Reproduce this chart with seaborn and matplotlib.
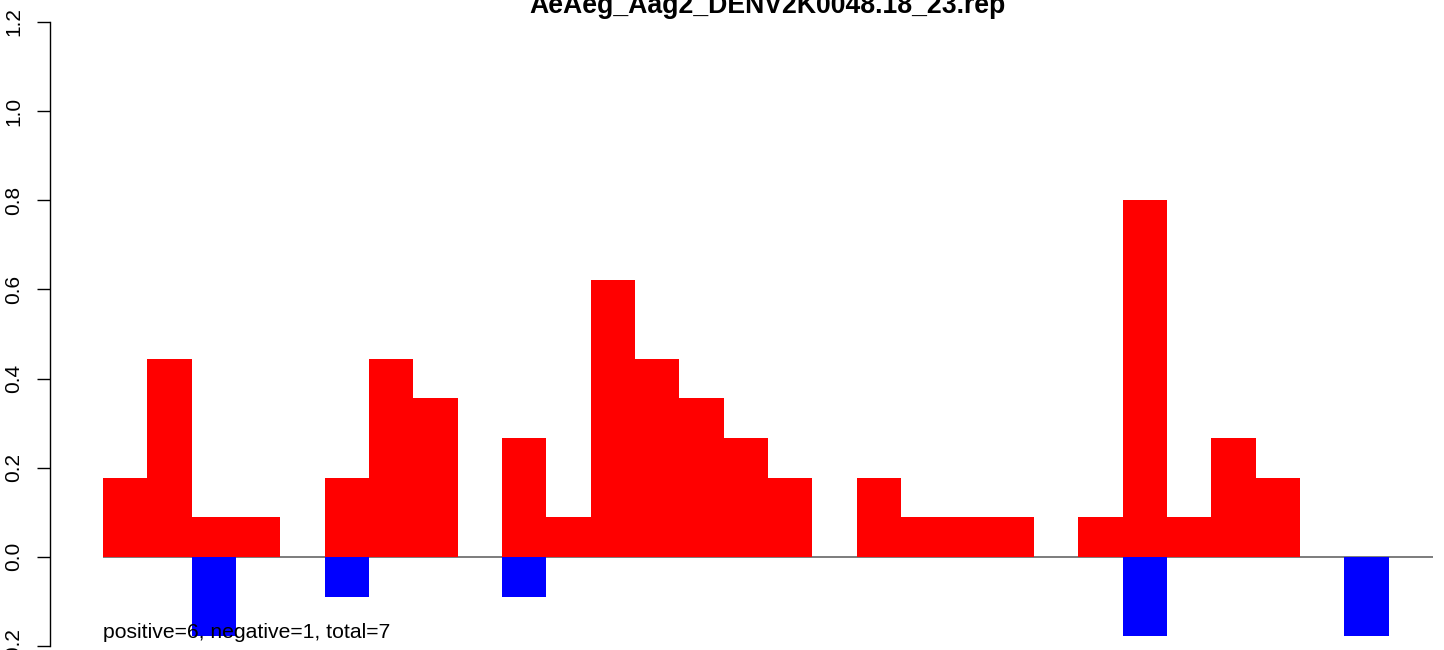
import matplotlib
matplotlib.use("Agg")
import matplotlib.pyplot as plt
import seaborn as sns
import pandas as pd

title = "AeAeg_Aag2_DENV2K0048.18_23.rep"
note = "positive=6, negative=1, total=7"

# bar values, one per position
positive = [0.178, 0.444, 0.089, 0.089, 0.0, 0.178, 0.444, 0.356, 0.0, 0.267,
            0.089, 0.622, 0.444, 0.356, 0.267, 0.178, 0.0, 0.178, 0.089, 0.089,
            0.089, 0.0, 0.089, 0.8, 0.089, 0.267, 0.178, 0.0, 0.0, 0.0]
negative = [0.0, 0.0, -0.178, 0.0, 0.0, -0.089, 0.0, 0.0, 0.0, -0.089,
            0.0, 0.0, 0.0, 0.0, 0.0, 0.0, 0.0, 0.0, 0.0, 0.0,
            0.0, 0.0, 0.0, -0.178, 0.0, 0.0, 0.0, 0.0, -0.178, 0.0]
yticks = [-0.2, 0.0, 0.2, 0.4, 0.6, 0.8, 1.0, 1.2]

df = pd.DataFrame({"pos": range(len(positive)), "positive": positive, "negative": negative})

sns.set_style("ticks")
plt.rcParams["font.family"] = ["Liberation Sans", "DejaVu Sans"]
plt.rcParams["text.color"] = "black"
plt.rcParams["ytick.color"] = "black"
plt.rcParams["ytick.labelcolor"] = "black"
plt.rcParams["axes.edgecolor"] = "black"

W, H = 1444, 650
fig = plt.figure(figsize=(W / 100, H / 100), dpi=100)
ax = fig.add_axes([103 / W, (H - 646) / H, 1330 / W, 624 / H])

ax.hlines(0, -0.5, len(positive) - 0.5, color="#666666", lw=1.2, zorder=0)
sns.barplot(data=df, x="pos", y="positive", color="#ff0000", saturation=1,
            width=1, linewidth=0, ax=ax, zorder=2)
sns.barplot(data=df, x="pos", y="negative", color="#0000ff", saturation=1,
            width=1, linewidth=0, ax=ax, zorder=2)

ax.set_xlim(-0.5, len(positive) - 0.5)
ax.set_ylim(-0.2, 1.2)
ax.set_xlabel("")
ax.set_ylabel("")
ax.set_xticks([])
for s in ["top", "right", "bottom"]:
    ax.spines[s].set_visible(False)
ax.spines["left"].set_position(("outward", 38))
ax.spines["left"].set_bounds(-0.2, 1.2)
ax.spines["left"].set_linewidth(1)
ax.spines["left"].set_color("black")
ax.spines["left"].set_clip_on(False)
ax.set_yticks(yticks)
ax.set_yticklabels([f"{v:.1f}" for v in yticks], rotation=90, va="center",
                   fontsize=15, color="black")
ax.tick_params(axis="y", length=9.5, width=1, pad=10, color="black")
ax.patch.set_visible(False)

fig.text(767 / W, 1 - 13 / H, title, ha="center", va="baseline",
         fontsize=19.2, fontweight="bold", color="black")
fig.text(103 / W, 1 - 638 / H, note, ha="left", va="baseline", fontsize=15.2,
         color="black", zorder=5)

fig.savefig("out.png", dpi=100)
